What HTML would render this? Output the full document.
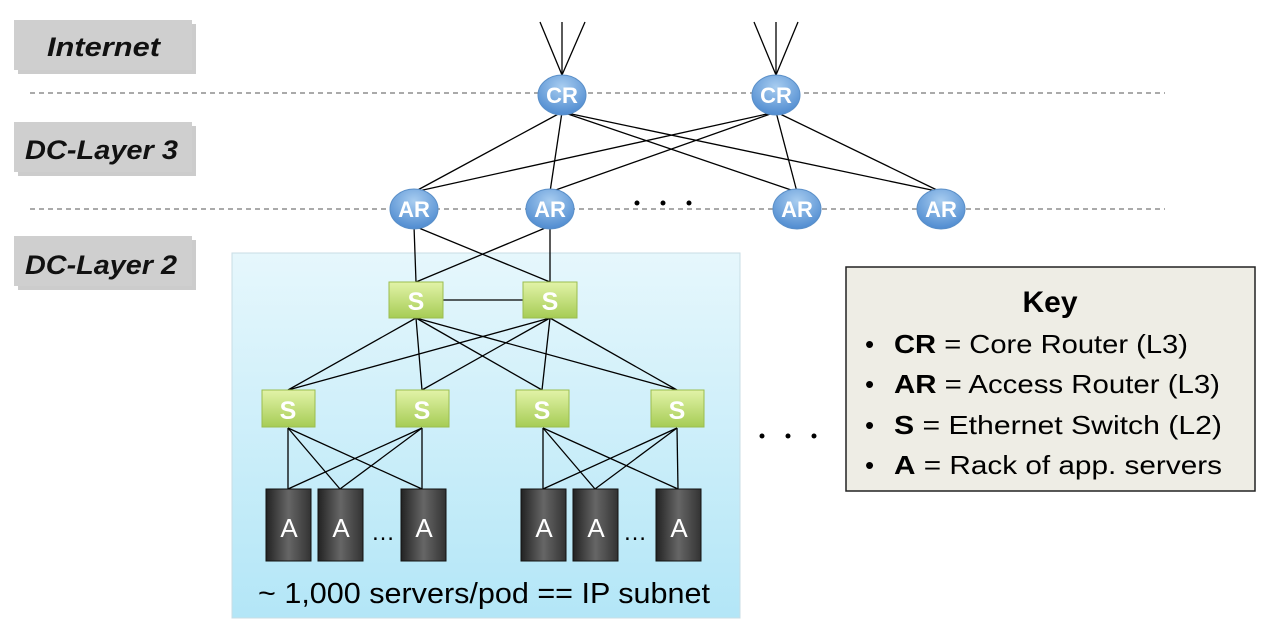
<!DOCTYPE html>
<html><head><meta charset="utf-8"><style>
html,body{margin:0;padding:0;background:#fff;}
svg{display:block;font-family:"Liberation Sans",sans-serif;}
</style></head><body>
<svg width="1282" height="641" viewBox="0 0 1282 641" xmlns="http://www.w3.org/2000/svg">
<defs>
<linearGradient id="pod" x1="0" y1="0" x2="0" y2="1"><stop offset="0" stop-color="#e6f7fc"/><stop offset="1" stop-color="#b3e6f7"/></linearGradient>
<radialGradient id="ell" cx="0.5" cy="0.3" r="0.7"><stop offset="0" stop-color="#a8cdf0"/><stop offset="1" stop-color="#4f8bd0"/></radialGradient>
<linearGradient id="sw" x1="0" y1="0" x2="0" y2="1"><stop offset="0" stop-color="#e2f3a8"/><stop offset="1" stop-color="#a6cc55"/></linearGradient>
<linearGradient id="rack" x1="0" y1="0" x2="1" y2="0"><stop offset="0" stop-color="#222"/><stop offset="0.5" stop-color="#666"/><stop offset="1" stop-color="#333"/></linearGradient>
</defs>
<!-- layer labels -->
<g font-weight="bold" font-style="italic" font-size="27" fill="#111">
<rect x="18" y="24" width="178" height="50" fill="#999" opacity="0.5"/>
<rect x="14" y="20" width="178" height="50" fill="#cfcfcf"/>
<text x="47" y="56" textLength="113" lengthAdjust="spacingAndGlyphs">Internet</text>
<rect x="18" y="126" width="178" height="50" fill="#999" opacity="0.5"/>
<rect x="14" y="122" width="178" height="50" fill="#cfcfcf"/>
<text x="25" y="159" textLength="153" lengthAdjust="spacingAndGlyphs">DC-Layer 3</text>
<rect x="18" y="240" width="178" height="50" fill="#999" opacity="0.5"/>
<rect x="14" y="236" width="178" height="50" fill="#cfcfcf"/>
<text x="25" y="274" textLength="152" lengthAdjust="spacingAndGlyphs">DC-Layer 2</text>
</g>
<!-- dashed lines -->
<g stroke="#aaa" stroke-width="2" stroke-dasharray="5,4">
<line x1="30" y1="93" x2="1165" y2="93"/>
<line x1="30" y1="209" x2="1165" y2="209"/>
</g>
<!-- pod -->
<rect x="232" y="253" width="508" height="365" fill="url(#pod)" stroke="#c8dde5"/>
<!-- connections -->
<g stroke="#000" stroke-width="1.3" fill="none">
<line x1="540" y1="22" x2="562" y2="75"/><line x1="562" y1="22" x2="562" y2="75"/><line x1="585" y1="22" x2="562" y2="75"/>
<line x1="754" y1="22" x2="776" y2="75"/><line x1="776" y1="22" x2="776" y2="75"/><line x1="798" y1="22" x2="776" y2="75"/>
<line x1="562" y1="112" x2="414" y2="192"/><line x1="562" y1="112" x2="550" y2="192"/><line x1="562" y1="112" x2="797" y2="192"/><line x1="562" y1="112" x2="941" y2="192"/>
<line x1="776" y1="112" x2="414" y2="192"/><line x1="776" y1="112" x2="550" y2="192"/><line x1="776" y1="112" x2="797" y2="192"/><line x1="776" y1="112" x2="941" y2="192"/>
<line x1="414" y1="226" x2="416" y2="282"/><line x1="414" y1="226" x2="550" y2="282"/><line x1="550" y1="226" x2="416" y2="282"/><line x1="550" y1="226" x2="550" y2="282"/>
<line x1="443" y1="300" x2="523" y2="300"/>
<line x1="416" y1="318" x2="288" y2="390"/><line x1="416" y1="318" x2="422" y2="390"/><line x1="416" y1="318" x2="542" y2="390"/><line x1="416" y1="318" x2="677" y2="390"/>
<line x1="550" y1="318" x2="288" y2="390"/><line x1="550" y1="318" x2="422" y2="390"/><line x1="550" y1="318" x2="542" y2="390"/><line x1="550" y1="318" x2="677" y2="390"/>
<line x1="288" y1="428" x2="288" y2="489"/><line x1="288" y1="428" x2="340" y2="489"/><line x1="288" y1="428" x2="422" y2="489"/>
<line x1="422" y1="428" x2="288" y2="489"/><line x1="422" y1="428" x2="340" y2="489"/><line x1="422" y1="428" x2="422" y2="489"/>
<line x1="543" y1="428" x2="543" y2="489"/><line x1="543" y1="428" x2="595" y2="489"/><line x1="543" y1="428" x2="678" y2="489"/>
<line x1="677" y1="428" x2="543" y2="489"/><line x1="677" y1="428" x2="595" y2="489"/><line x1="677" y1="428" x2="678" y2="489"/>
</g>
<!-- routers -->
<g font-size="22" fill="#fff" text-anchor="middle" font-weight="bold">
<ellipse cx="562" cy="95" rx="24" ry="20" fill="url(#ell)" stroke="#5a8fc8"/><text x="562" y="103">CR</text>
<ellipse cx="776" cy="95" rx="24" ry="20" fill="url(#ell)" stroke="#5a8fc8"/><text x="776" y="103">CR</text>
<ellipse cx="414" cy="209" rx="24" ry="20" fill="url(#ell)" stroke="#5a8fc8"/><text x="414" y="217">AR</text>
<ellipse cx="550" cy="209" rx="24" ry="20" fill="url(#ell)" stroke="#5a8fc8"/><text x="550" y="217">AR</text>
<ellipse cx="797" cy="209" rx="24" ry="20" fill="url(#ell)" stroke="#5a8fc8"/><text x="797" y="217">AR</text>
<ellipse cx="941" cy="209" rx="24" ry="20" fill="url(#ell)" stroke="#5a8fc8"/><text x="941" y="217">AR</text>
</g>
<!-- switches -->
<g font-size="25" fill="#fff" text-anchor="middle" font-weight="bold">
<rect x="389" y="282" width="54" height="36" fill="url(#sw)" stroke="#9bbd4f"/><text x="416" y="310">S</text>
<rect x="523" y="282" width="54" height="36" fill="url(#sw)" stroke="#9bbd4f"/><text x="550" y="310">S</text>
<rect x="262" y="390" width="53" height="37" fill="url(#sw)" stroke="#9bbd4f"/><text x="288" y="419">S</text>
<rect x="396" y="390" width="53" height="37" fill="url(#sw)" stroke="#9bbd4f"/><text x="422" y="419">S</text>
<rect x="516" y="390" width="53" height="37" fill="url(#sw)" stroke="#9bbd4f"/><text x="542" y="419">S</text>
<rect x="651" y="390" width="53" height="37" fill="url(#sw)" stroke="#9bbd4f"/><text x="677" y="419">S</text>
</g>
<!-- racks -->
<g font-size="26" fill="#fff" text-anchor="middle">
<rect x="266" y="489" width="45" height="72" fill="url(#rack)" stroke="#111"/><text x="289" y="537">A</text>
<rect x="318" y="489" width="45" height="72" fill="url(#rack)" stroke="#111"/><text x="341" y="537">A</text>
<rect x="401" y="489" width="45" height="72" fill="url(#rack)" stroke="#111"/><text x="424" y="537">A</text>
<rect x="521" y="489" width="45" height="72" fill="url(#rack)" stroke="#111"/><text x="544" y="537">A</text>
<rect x="573" y="489" width="45" height="72" fill="url(#rack)" stroke="#111"/><text x="596" y="537">A</text>
<rect x="656" y="489" width="45" height="72" fill="url(#rack)" stroke="#111"/><text x="679" y="537">A</text>
</g>
<g fill="#000">
<text x="383" y="540" font-size="24" text-anchor="middle">…</text>
<text x="635" y="540" font-size="24" text-anchor="middle">…</text>
<circle cx="637" cy="203" r="2.5"/><circle cx="663" cy="203" r="2.5"/><circle cx="689" cy="203" r="2.5"/>
<circle cx="762" cy="436" r="2.5"/><circle cx="788" cy="436" r="2.5"/><circle cx="814" cy="436" r="2.5"/>
</g>
<text x="484" y="603" font-size="29" text-anchor="middle" textLength="452" lengthAdjust="spacingAndGlyphs">~ 1,000 servers/pod == IP subnet</text>
<!-- key -->
<rect x="846" y="267" width="409" height="224" fill="#eeede5" stroke="#222" stroke-width="1.5"/>
<text x="1050" y="312" font-size="30" font-weight="bold" text-anchor="middle">Key</text>
<g font-size="26">
<text x="865" y="353">•</text><text x="894" y="353" textLength="294" lengthAdjust="spacingAndGlyphs"><tspan font-weight="bold">CR</tspan> = Core Router (L3)</text>
<text x="865" y="393">•</text><text x="894" y="393" textLength="326" lengthAdjust="spacingAndGlyphs"><tspan font-weight="bold">AR</tspan> = Access Router (L3)</text>
<text x="865" y="434">•</text><text x="894" y="434" textLength="328" lengthAdjust="spacingAndGlyphs"><tspan font-weight="bold">S</tspan> = Ethernet Switch (L2)</text>
<text x="865" y="474">•</text><text x="894" y="474" textLength="328" lengthAdjust="spacingAndGlyphs"><tspan font-weight="bold">A</tspan> = Rack of app. servers</text>
</g>
</svg>
</body></html>
